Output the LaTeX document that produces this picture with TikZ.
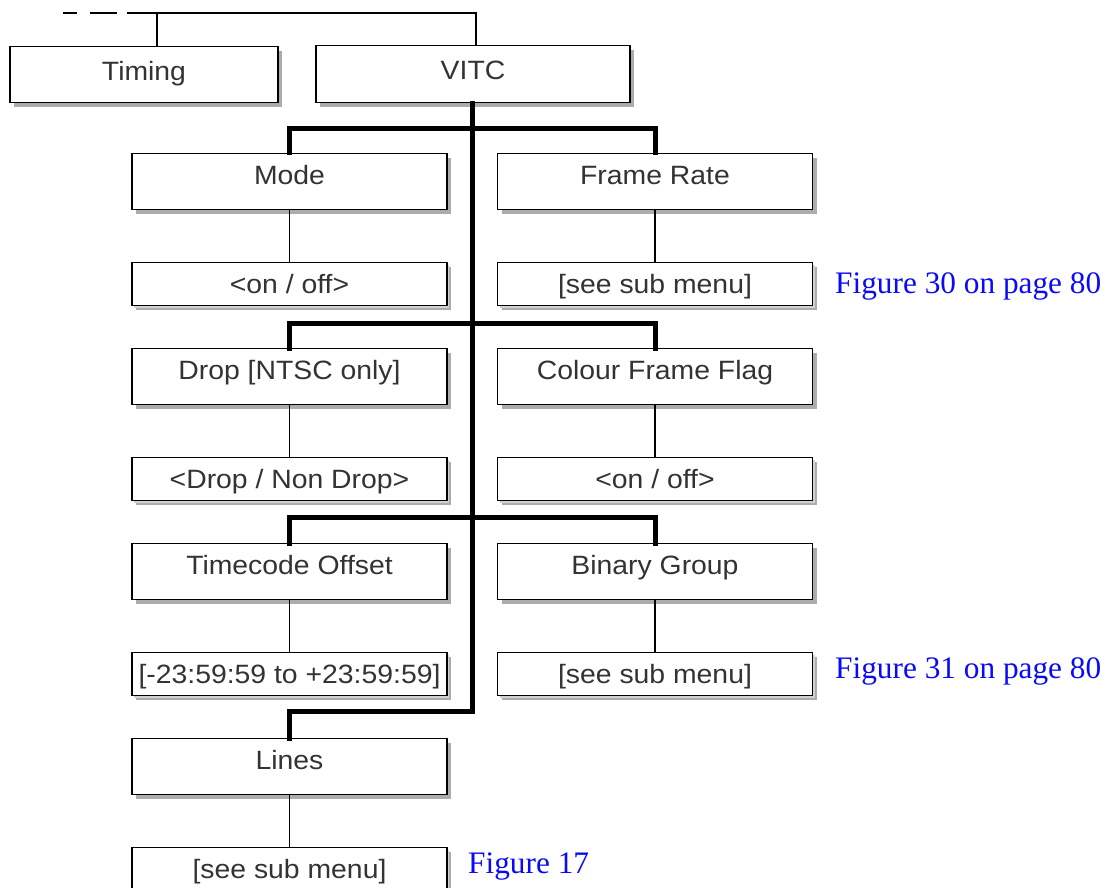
\documentclass[tikz,border=0pt]{standalone}
\usepackage{fontspec}
\setmainfont{Liberation Serif}
\newfontfamily\boxfont[FakeStretch=1.07]{Liberation Sans}
\usetikzlibrary{shadows}
\definecolor{linkblue}{RGB}{10,10,245}
\tikzset{
  menubox/.style={draw=black, line width=1.4pt, fill=white, inner sep=0pt,
    anchor=north, text=black!80,
    font=\boxfont\fontsize{26.5pt}{30pt}\selectfont,
    text height=31pt, text depth=25pt, minimum width=315pt,
    drop shadow={shadow xshift=4pt, shadow yshift=-4pt, fill=gray!65, opacity=1}},
  valbox/.style={menubox, text depth=12pt,
    drop shadow={shadow xshift=2pt, shadow yshift=-2pt, fill=gray!35, opacity=1}},
  trunk/.style={line width=5pt, line join=miter, line cap=rect},
  twig/.style={line width=1.3pt},
  xref/.style={anchor=base west, inner sep=0pt, text=linkblue,
    font=\fontsize{31.3pt}{35pt}\selectfont}
}
\begin{document}
\begin{tikzpicture}[x=1pt, y=-1pt]
\useasboundingbox (0,0) rectangle (1111,888);

% top level
\node[menubox, minimum width=268pt, text height=34pt, text depth=22pt] (timing) at (144,46) {Timing};
\node[menubox, minimum width=314pt, text height=34pt, text depth=23pt] (vitc) at (473,45) {VITC};

\coordinate (dashstart) at (63,13);
\coordinate (busleft) at (127,13);
\coordinate (tjoin) at (157,13);
\coordinate (vjoin) at (476,13);
\draw[twig, dash pattern=on 14pt off 13pt on 27pt off 10pt] (dashstart) -- (busleft);
\draw[twig] (busleft) -- (vjoin) -- (vitc.north -| vjoin);
\draw[twig] (tjoin) -- (timing.north -| tjoin);

% row 1
\node[menubox] (mode) at (289.5,153) {Mode};
\node[valbox] (modeval) at (289.5,262) {<on / off>};
\node[menubox] (rate) at (655,153) {Frame Rate};
\node[valbox] (rateval) at (655,262) {[see sub menu]};
\node[xref] (fig30) at (835,293) {Figure 30 on page 80};

% row 2
\node[menubox] (drop) at (289.5,348) {Drop [NTSC only]};
\node[valbox] (dropval) at (289.5,457) {<Drop / Non Drop>};
\node[menubox] (cff) at (655,348) {Colour Frame Flag};
\node[valbox] (cffval) at (655,457) {<on / off>};

% row 3
\node[menubox] (tco) at (289.5,543) {Timecode Offset};
\node[valbox] (tcoval) at (289.5,652) {[-23:59:59 to +23:59:59]};
\node[menubox] (bgrp) at (655,543) {Binary Group};
\node[valbox] (bgrpval) at (655,652) {[see sub menu]};
\node[xref] (fig31) at (835,678) {Figure 31 on page 80};

% row 4
\node[menubox] (lines) at (289.5,738) {Lines};
\node[valbox] (linesval) at (289.5,847) {[see sub menu]};
\node[xref] (fig17) at (468,873) {Figure 17};

% trunk and branches
\coordinate (j1) at (472,129);
\coordinate (j2) at (472,323);
\coordinate (j3) at (472,517);
\coordinate (j4) at (472,711);
\draw[trunk] (vitc.south -| j1) -- (j4) -| (lines.north);
\draw[trunk] (mode.north) |- (j1) -| (rate.north);
\draw[trunk] (drop.north) |- (j2) -| (cff.north);
\draw[trunk] (tco.north) |- (j3) -| (bgrp.north);

% item to value links
\draw[twig] (mode.south) -- (modeval.north);
\draw[twig] (rate.south) -- (rateval.north);
\draw[twig] (drop.south) -- (dropval.north);
\draw[twig] (cff.south) -- (cffval.north);
\draw[twig] (tco.south) -- (tcoval.north);
\draw[twig] (bgrp.south) -- (bgrpval.north);
\draw[twig] (lines.south) -- (linesval.north);
\end{tikzpicture}
\end{document}
